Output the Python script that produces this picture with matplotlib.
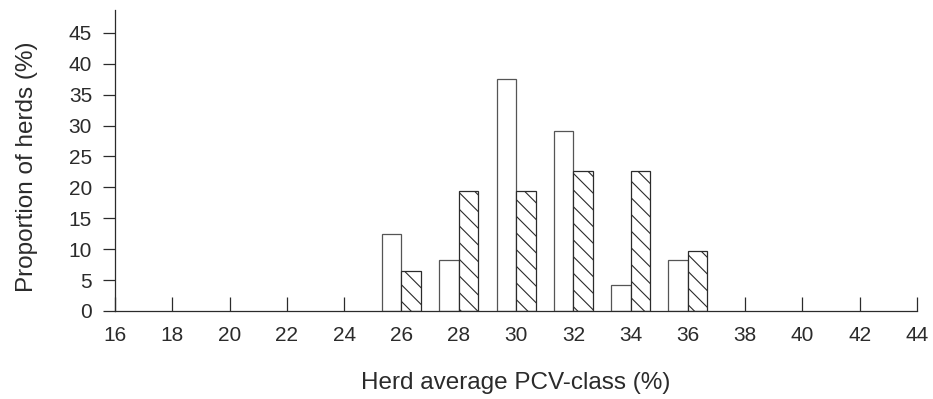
import numpy as np
import matplotlib
matplotlib.use("Agg")
import matplotlib.pyplot as plt

# herd PCV classes and share of herds per class (two groups)
pcv_class = [26, 28, 30, 32, 34, 36]
group_open = [12.5, 8.3, 37.5, 29.2, 4.2, 8.3]
group_hatched = [6.5, 19.4, 19.4, 22.6, 22.6, 9.7]

x_ticks = list(range(16, 46, 2))
y_ticks = list(range(0, 50, 5))

plt.rcParams['font.family'] = ['Liberation Sans', 'DejaVu Sans']
plt.rcParams['hatch.linewidth'] = 0.8
plt.rcParams['hatch.color'] = '#222222'

ink = '#2b2b2b'

fig = plt.figure(figsize=(9.33, 3.99), dpi=100)
ax = fig.add_axes([0.1233, 0.2206, 0.8596, 0.7544])

w = 0.68
x = np.array(pcv_class, dtype=float)
ax.bar(x - w / 2, group_open, width=w, color='white', edgecolor='#555555', linewidth=0.9, zorder=2)
ax.bar(x + w / 2, group_hatched, width=w, color='white', edgecolor=ink, linewidth=0.9,
       hatch='\\\\', zorder=2)

ax.set_xlim(16, 44)
ax.set_ylim(0, 48.7)
ax.set_xticks(x_ticks)
ax.set_yticks(y_ticks)

ax.spines['top'].set_visible(False)
ax.spines['right'].set_visible(False)
for s in ('left', 'bottom'):
    ax.spines[s].set_color(ink)
    ax.spines[s].set_linewidth(0.9)

ax.tick_params(axis='x', direction='in', length=10, width=0.9, color=ink, pad=11,
               labelsize=15, labelcolor=ink)
ax.tick_params(axis='y', direction='out', length=8.5, width=0.9, color=ink, pad=8,
               labelsize=15, labelcolor=ink)

ax.set_xlabel('Herd average PCV-class (%)', fontsize=17.5, color=ink, va='center')
ax.set_ylabel('Proportion of herds (%)', fontsize=17.5, color=ink, va='center')
ax.xaxis.set_label_coords(0.5, -0.239)
ax.yaxis.set_label_coords(-0.11, 0.48)

fig.savefig('out.png', dpi=100, facecolor='white')
